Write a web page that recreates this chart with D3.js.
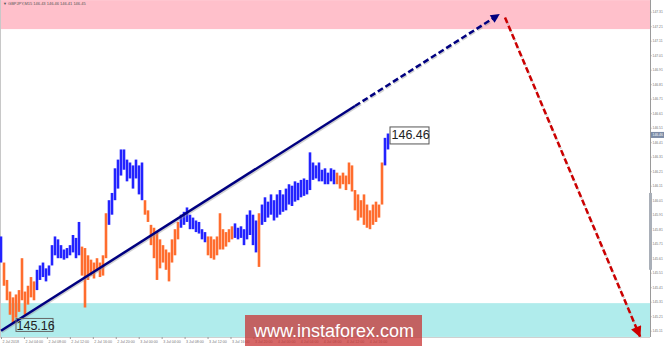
<!DOCTYPE html>
<html>
<head>
<meta charset="utf-8">
<script src="https://cdn.jsdelivr.net/npm/d3@7"></script>
<style>
  body { margin: 0; background: #fff; }
  svg { display: block; font-family: "Liberation Sans", Arial, sans-serif; }
</style>
</head>
<body>
<svg id="chart" width="665" height="346"></svg>
<script>
// bar highs / lows (GBPJPY M15, one entry per sampled bar)
const highs = [
  145.76, 145.58, 145.46, 145.38, 145.34, 145.36, 145.39, 145.61, 145.38, 145.42,
  145.48, 145.45, 145.53, 145.56, 145.58, 145.54, 145.56, 145.70, 145.76, 145.74,
  145.70, 145.67, 145.68, 145.70, 145.77, 145.75, 145.86, 145.69, 145.68, 145.63,
  145.60, 145.58, 145.61, 145.58, 145.63, 145.92, 146.01, 146.06, 146.23, 146.29,
  146.36, 146.36, 146.29, 146.27, 146.25, 146.29, 146.25, 146.27, 146.01, 145.94,
  145.84, 145.82, 145.79, 145.74, 145.70, 145.67, 145.65, 145.74, 145.81, 145.86,
  145.91, 145.93, 145.96, 145.91, 145.89, 145.87, 145.86, 145.81, 145.79, 145.76,
  145.76, 145.74, 145.76, 145.92, 145.81, 145.79, 145.81, 145.83, 145.85, 145.82,
  145.83, 145.81, 145.91, 145.94, 145.91, 145.87, 145.92, 145.98, 146.03, 146.00,
  146.05, 146.01, 146.05, 146.08, 146.05, 146.09, 146.12, 146.11, 146.14, 146.13,
  146.15, 146.16, 146.15, 146.34, 146.27, 146.25, 146.27, 146.22, 146.23, 146.20,
  146.23, 146.22, 146.20, 146.18, 146.20, 146.18, 146.27, 146.25, 146.08, 146.05,
  146.01, 146.05, 145.98, 145.94, 145.98, 146.00, 145.98, 146.27, 146.44, 146.47
];
const lows = [
  145.58, 145.42, 145.32, 145.22, 145.16, 145.20, 145.24, 145.32, 145.22, 145.29,
  145.34, 145.32, 145.39, 145.46, 145.48, 145.45, 145.49, 145.56, 145.63, 145.61,
  145.61, 145.60, 145.61, 145.63, 145.65, 145.61, 145.63, 145.49, 145.27, 145.46,
  145.49, 145.47, 145.52, 145.48, 145.49, 145.61, 145.84, 145.91, 146.01, 146.09,
  146.18, 146.22, 146.14, 146.16, 146.09, 146.16, 146.05, 146.01, 145.91, 145.86,
  145.70, 145.61, 145.46, 145.54, 145.58, 145.53, 145.45, 145.58, 145.63, 145.74,
  145.82, 145.84, 145.86, 145.81, 145.81, 145.79, 145.78, 145.74, 145.72, 145.63,
  145.61, 145.60, 145.63, 145.67, 145.67, 145.69, 145.72, 145.74, 145.75, 145.74,
  145.75, 145.70, 145.74, 145.77, 145.70, 145.65, 145.55, 145.84, 145.86, 145.89,
  145.91, 145.87, 145.89, 145.91, 145.93, 145.94, 145.98, 145.97, 146.00, 146.01,
  146.03, 146.04, 146.05, 146.08, 146.15, 146.16, 146.14, 146.14, 146.12, 146.12,
  146.14, 146.12, 146.12, 146.09, 146.12, 146.08, 146.12, 146.07, 145.94, 145.87,
  145.89, 145.84, 145.82, 145.81, 145.84, 145.86, 145.89, 145.98, 146.25, 146.36
];

// wave colouring: bar index where each wave starts, and its direction
const waveStarts = [0, 1, 12, 27, 36, 48, 60, 69, 78, 86, 87, 112, 128];
const waveKinds = ["up", "down", "up", "down", "up", "down", "up", "down", "up", "down", "up", "down", "up"];

// zones and forecast
const resistanceZone = [147.19, 147.39];
const supportZone = [145.067, 145.30];
const upWave = [[0, 145.11], [166, 147.29]];   // bar index, price
const upWaveSolidUntil = 118;
const downWave = [[168, 147.27], [213, 145.07]];

const lastPrice = 146.46;
const lowPrice = 145.16;
const lowIndex = 4;

const priceTicks = [145.11, 145.21, 145.31, 145.41, 145.51, 145.61, 145.71, 145.81, 145.91, 146.01,
  146.11, 146.21, 146.31, 146.41, 146.51, 146.61, 146.71, 146.81, 146.91, 147.01,
  147.11, 147.21, 147.31];
const timeLabels = ["2 Jul 2018", "2 Jul 04:00", "2 Jul 08:00", "2 Jul 12:00", "2 Jul 16:00", "2 Jul 20:00",
  "3 Jul 00:00", "3 Jul 04:00", "3 Jul 08:00", "3 Jul 12:00", "3 Jul 16:00", "3 Jul 20:00",
  "4 Jul 00:00", "4 Jul 04:00", "4 Jul 08:00", "4 Jul 12:00", "4 Jul 16:00"];
const barsPerLabel = 7.65;

const title = "\u25BC GBPJPY,M15  146.43 146.46 146.41 146.45";

const svg = d3.select("#chart");
const plotRight = 650, plotBottom = 337;

const x = d3.scaleLinear().domain([0, 215]).range([1, 646]);
const y = d3.scaleLinear().domain([145.11, 147.31]).range([330.7, 11.7]);

const colors = { up: "#2323ff", down: "#ff6d2e" };

// zones
svg.append("rect")
  .attr("x", 0).attr("width", plotRight)
  .attr("y", y(resistanceZone[1]))
  .attr("height", y(resistanceZone[0]) - y(resistanceZone[1]))
  .attr("fill", "#ffc0cb");

svg.append("rect")
  .attr("x", 0).attr("width", plotRight)
  .attr("y", y(supportZone[1]))
  .attr("height", y(supportZone[0]) - y(supportZone[1]))
  .attr("fill", "#b0ecec");

// borders
svg.append("line").attr("x1", 0.5).attr("x2", 0.5).attr("y1", 0).attr("y2", plotBottom)
  .style("stroke", "#c8c8c8");

// title
svg.append("text").attr("x", 3).attr("y", 5)
  .style("font-size", "4px").style("fill", "#555").text(title);

// bars
const bars = svg.append("g");
highs.forEach((h, i) => {
  const w = d3.bisectRight(waveStarts, i) - 1;
  bars.append("line")
    .attr("x1", x(i)).attr("x2", x(i))
    .attr("y1", y(h)).attr("y2", y(lows[i]))
    .style("stroke", colors[waveKinds[w]])
    .style("stroke-width", 2.6);
});

// arrow heads
const defs = svg.append("defs");
function arrowHead(id, color, len, wid) {
  defs.append("marker")
    .attr("id", id)
    .attr("viewBox", "0 0 10 10")
    .attr("refX", 9).attr("refY", 5)
    .attr("markerWidth", len).attr("markerHeight", wid)
    .attr("markerUnits", "userSpaceOnUse")
    .attr("orient", "auto")
    .append("path").attr("d", "M0,0L10,5L0,10z").attr("fill", color);
}
arrowHead("navyArrow", "#000080", 11, 9);
arrowHead("redArrow", "#cc0000", 14, 11);

const line = d3.line().x(d => x(d[0])).y(d => y(d[1]));

// point on the up wave where the solid part ends
const t = (upWaveSolidUntil - upWave[0][0]) / (upWave[1][0] - upWave[0][0]);
const splitPoint = [upWaveSolidUntil, upWave[0][1] + t * (upWave[1][1] - upWave[0][1])];

function drawShadow(pts, dash) {
  svg.append("path").attr("d", line(pts))
    .attr("transform", "translate(1,1.5)")
    .style("fill", "none").style("stroke", "#9a9a9a").style("stroke-width", 2)
    .style("opacity", 0.45)
    .style("stroke-dasharray", dash || null);
}
drawShadow([upWave[0], splitPoint]);
drawShadow([splitPoint, upWave[1]], "6,3");
drawShadow(downWave, "6,3");

svg.append("path").attr("d", line([upWave[0], splitPoint]))
  .style("fill", "none").style("stroke", "#000080").style("stroke-width", 2.5);

svg.append("path").attr("d", line([splitPoint, upWave[1]]))
  .style("fill", "none").style("stroke", "#000080").style("stroke-width", 2.5)
  .style("stroke-dasharray", "6,3")
  .attr("marker-end", "url(#navyArrow)");

svg.append("path").attr("d", line(downWave))
  .style("fill", "none").style("stroke", "#cc0000").style("stroke-width", 2.5)
  .style("stroke-dasharray", "6,3")
  .attr("marker-end", "url(#redArrow)");

// price labels
const lastX = x(highs.length - 1) + 2;
svg.append("rect")
  .attr("x", lastX).attr("y", y(lastPrice) - 8)
  .attr("width", 39).attr("height", 17)
  .style("fill", "#fff").style("stroke", "#555").style("stroke-width", 1);
svg.append("text")
  .attr("x", lastX + 1.5).attr("y", y(lastPrice) + 4.5)
  .style("font-size", "12.5px").style("fill", "#222")
  .text(lastPrice.toFixed(2));

const lowX = x(lowIndex) + 3;
svg.append("rect")
  .attr("x", lowX).attr("y", y(lowPrice) - 5)
  .attr("width", 37).attr("height", 13)
  .style("fill", "none").style("stroke", "#666").style("stroke-width", 1);
svg.append("text")
  .attr("x", lowX + 0.5).attr("y", y(lowPrice) + 6.5)
  .style("font-size", "12.5px").style("fill", "#222")
  .text(lowPrice.toFixed(2));

// right price axis
const yAxis = svg.append("g")
  .attr("transform", `translate(${plotRight},0)`)
  .call(d3.axisRight(y).tickValues(priceTicks).tickFormat(d3.format(".2f")).tickSize(1.5).tickPadding(1));
yAxis.select(".domain").attr("d", `M0.5,0V${plotBottom}`).style("stroke", "#9a9a9a");
yAxis.selectAll(".tick line").style("stroke", "#9a9a9a");
yAxis.selectAll(".tick text").style("font-size", "3.4px").style("fill", "#777")
  .style("font-family", "'Liberation Sans', Arial, sans-serif");

// scroll marker on the price axis
svg.append("rect")
  .attr("x", plotRight - 1).attr("width", 3)
  .attr("y", y(146.06)).attr("height", y(145.53) - y(146.06))
  .style("fill", "#a9afb8");

// current price highlight on the axis
svg.append("rect")
  .attr("x", plotRight + 1).attr("y", y(lastPrice) - 3)
  .attr("width", 13).attr("height", 6)
  .style("fill", "#7b8ba6");
svg.append("text")
  .attr("x", plotRight + 2.5).attr("y", y(lastPrice) + 1.3)
  .style("font-size", "3.4px").style("fill", "#fff")
  .text(lastPrice.toFixed(2));

// bottom time axis
const xAxis = svg.append("g")
  .attr("transform", `translate(0,${plotBottom})`)
  .call(d3.axisBottom(x)
    .tickValues(timeLabels.map((d, i) => i * barsPerLabel))
    .tickFormat((d, i) => timeLabels[i])
    .tickSize(2).tickPadding(1));
xAxis.select(".domain").attr("d", `M0,0.5H${plotRight}`).style("stroke", "#d0d0d0");
xAxis.selectAll(".tick line").style("stroke", "#9a9a9a");
xAxis.selectAll(".tick text")
  .attr("text-anchor", "start").attr("dx", 1)
  .style("font-size", "3.6px").style("fill", "#777")
  .style("font-family", "'Liberation Sans', Arial, sans-serif");

// watermark
svg.append("rect")
  .attr("x", 245).attr("y", 315).attr("width", 177).attr("height", 31)
  .style("fill", "#c83232").style("opacity", 0.74);
svg.append("text")
  .attr("x", 254).attr("y", 336.5)
  .style("font-size", "18px").style("fill", "#fff")
  .text("www.instaforex.com");
</script>
</body>
</html>
